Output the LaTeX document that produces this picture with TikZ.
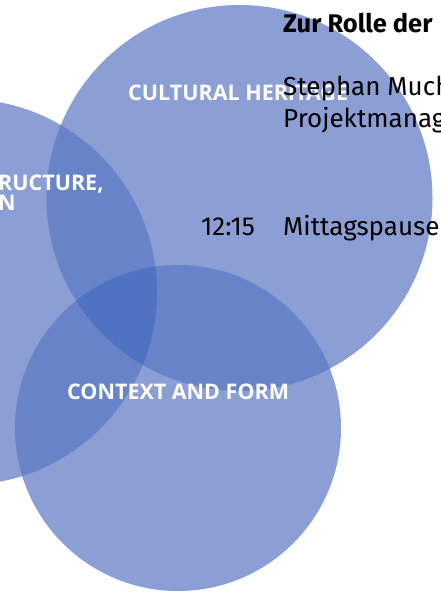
\documentclass[tikz,border=0pt]{standalone}
\usepackage{fontspec}
\setmainfont{Fira Sans}
\newfontfamily\labelfont{Open Sans}
\definecolor{vennone}{HTML}{8C9FD5}
\definecolor{venntwo}{HTML}{6884C8}
\definecolor{vennthree}{HTML}{4F72C2}
\begin{document}
\begin{tikzpicture}[x=1pt,y=-1pt,
  circlab/.style={font=\labelfont\bfseries\fontsize{21.5}{24}\selectfont, text=white, inner sep=0pt, anchor=base west},
  bodytext/.style={font=\fontsize{26}{31}\selectfont, text=black, inner sep=0pt, anchor=base west},
  headtext/.style={font=\bfseries\fontsize{25.5}{30}\selectfont, text=black, inner sep=0pt, anchor=base west}]
\useasboundingbox (0,0) rectangle (440,593);
\clip (0,0) rectangle (440,593);
% circles
\coordinate (ca) at (239.5,198);
\coordinate (cb) at (-36,292);
\coordinate (cc) at (178,428);
\fill[vennone] (ca) circle[radius=193];
\fill[vennone] (cb) circle[radius=193];
\fill[vennone] (cc) circle[radius=163];
\begin{scope}
  \clip (ca) circle[radius=193];
  \fill[venntwo] (cb) circle[radius=193];
  \fill[venntwo] (cc) circle[radius=163];
\end{scope}
\begin{scope}
  \clip (cb) circle[radius=193];
  \fill[venntwo] (cc) circle[radius=163];
\end{scope}
\begin{scope}
  \clip (ca) circle[radius=193];
  \clip (cb) circle[radius=193];
  \fill[vennthree] (cc) circle[radius=163];
\end{scope}
% circle labels
\node[circlab] (heritage) at (128,101) {CULTURAL HERITAGE};
\node[circlab] (infra1) at (-2,191) {RUCTURE,};
\node[circlab] (infra2) at (-2,211) {N};
\node[circlab] (context) at (67,399) {CONTEXT AND FORM};
% programme text
\node[headtext] (head) at (283,32.5) {Zur Rolle der};
\node[bodytext] (name) at (283,96) {Stephan Muchl};
\node[bodytext] (role) at (283,128) {Projektmanag};
\node[bodytext, anchor=base east] (time) at (255,236) {12:15};
\node[bodytext] (lunch) at (283,236) {Mittagspause};
\end{tikzpicture}
\end{document}
